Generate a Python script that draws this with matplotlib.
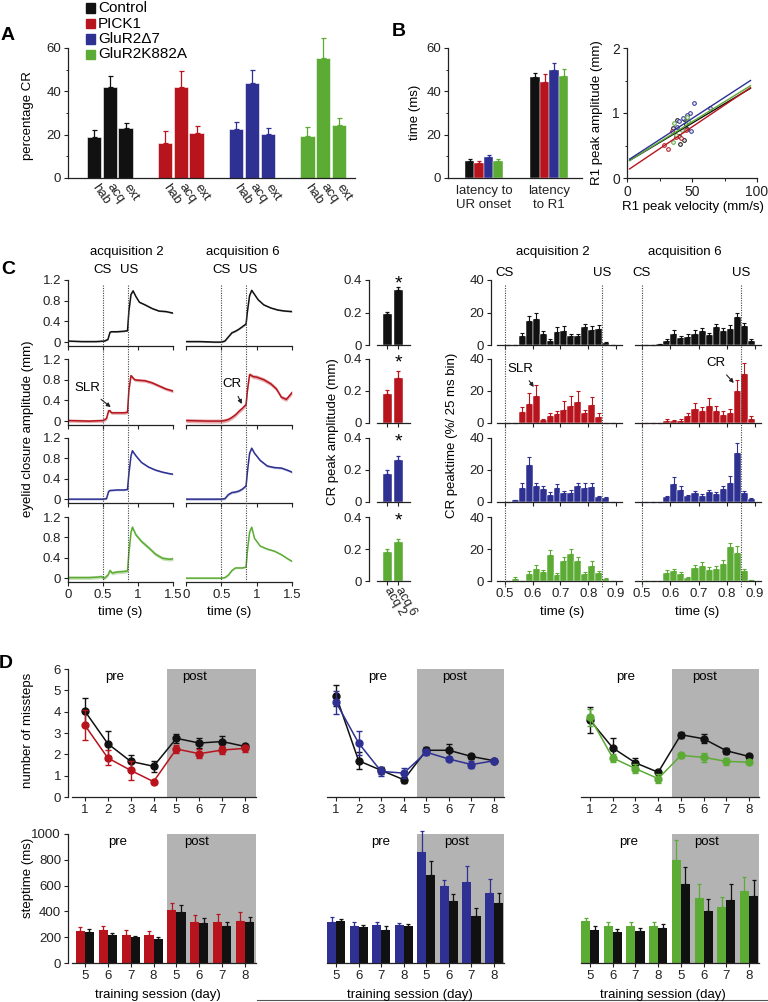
import numpy as np
import matplotlib.pyplot as plt
from matplotlib.lines import Line2D
from matplotlib.transforms import blended_transform_factory

plt.rcParams['font.family'] = ['Liberation Sans', 'DejaVu Sans']
plt.rcParams['font.size'] = 9.5
plt.rcParams['axes.linewidth'] = 0.9

# ---------------- data ----------------
groups = ['Control', 'PICK1', 'GluR2\u03947', 'GluR2K882A']
colors = ['#111111', '#b8141d', '#2e3192', '#5cab34']

# A: percentage CR per phase
phases = ['hab', 'acq', 'ext']
cr_pct = [[19, 42, 23], [16, 42, 21], [22.5, 44, 20.5], [19.5, 55.5, 24.5]]
cr_pct_err = [[3, 5, 2.5], [5.5, 7.5, 3], [3.5, 6, 2.5], [4, 9, 3]]

# B: latencies
latency_names = ['latency to\nUR onset', 'latency\nto R1']
latency = [[8, 46.5], [7, 44.5], [9.5, 50], [8, 47]]
latency_err = [[0.7, 2], [1, 3.5], [1.2, 3], [0.7, 3.5]]

# B: R1 peak velocity vs amplitude
r1_vel = [[38.4, 44, 35.6, 45.2, 40.2, 44, 40.9, 46.5],
          [34.6, 41.4, 28.8, 31.8, 37.6, 45.4],
          [51.5, 63.6, 48.2, 46, 43, 38.6, 49.5, 40.2],
          [36.4, 46.4, 42.2, 35.6, 37.6, 47]]
r1_amp = [[0.89, 0.91, 0.77, 0.83, 0.65, 0.59, 0.53, 0.76],
          [0.72, 0.61, 0.51, 0.45, 0.63, 0.74],
          [1.15, 1.08, 1.0, 0.97, 0.92, 0.79, 0.72, 0.87],
          [0.85, 0.94, 0.74, 0.56, 0.66, 0.87]]
fit_x = [2, 95]
fit_y = [[0.27, 1.38], [0.14, 1.39], [0.29, 1.5], [0.27, 1.42]]

# C: eyelid traces (time s, amplitude mm) for acquisition 2 and 6
trace_t = [
    [[0, 0.2, 0.4, 0.52, 0.57, 0.6, 0.62, 0.7, 0.8, 0.85, 0.87, 0.9, 0.93, 0.97, 1.02, 1.1, 1.2, 1.3, 1.4, 1.5],
     [0, 0.2, 0.4, 0.5, 0.55, 0.6, 0.65, 0.7, 0.75, 0.8, 0.85, 0.87, 0.9, 0.93, 0.97, 1.02, 1.1, 1.2, 1.3, 1.4, 1.5]],
    [[0, 0.3, 0.5, 0.55, 0.58, 0.6, 0.62, 0.7, 0.8, 0.85, 0.87, 0.9, 0.95, 1.0, 1.1, 1.2, 1.3, 1.4, 1.5],
     [0, 0.3, 0.5, 0.55, 0.6, 0.65, 0.7, 0.75, 0.8, 0.85, 0.87, 0.9, 0.95, 1.0, 1.1, 1.2, 1.28, 1.35, 1.42, 1.5]],
    [[0, 0.3, 0.5, 0.55, 0.58, 0.6, 0.7, 0.8, 0.85, 0.87, 0.9, 0.92, 0.97, 1.05, 1.15, 1.25, 1.35, 1.45, 1.5],
     [0, 0.3, 0.5, 0.55, 0.6, 0.65, 0.7, 0.75, 0.8, 0.85, 0.87, 0.9, 0.93, 0.97, 1.05, 1.15, 1.25, 1.35, 1.45, 1.5]],
    [[0, 0.3, 0.43, 0.47, 0.52, 0.57, 0.6, 0.63, 0.7, 0.8, 0.85, 0.87, 0.9, 0.92, 0.97, 1.05, 1.15, 1.25, 1.35, 1.45, 1.5],
     [0, 0.3, 0.5, 0.55, 0.6, 0.65, 0.7, 0.8, 0.85, 0.87, 0.9, 0.93, 0.97, 1.05, 1.15, 1.25, 1.35, 1.45, 1.5]],
]
trace_y = [
    [[0.02, 0.01, 0.01, 0.02, 0.05, 0.19, 0.2, 0.2, 0.21, 0.22, 0.6, 0.92, 0.99, 0.88, 0.77, 0.72, 0.65, 0.6, 0.59, 0.56],
     [0.01, 0.01, 0.0, 0.0, 0.02, 0.1, 0.18, 0.21, 0.25, 0.3, 0.35, 0.6, 0.9, 1.0, 0.92, 0.82, 0.72, 0.66, 0.62, 0.6, 0.59]],
    [[0.01, 0.0, 0.01, 0.05, 0.2, 0.2, 0.16, 0.16, 0.16, 0.17, 0.6, 0.88, 0.8, 0.79, 0.78, 0.74, 0.68, 0.62, 0.58],
     [0.01, 0.0, 0.0, 0.01, 0.03, 0.07, 0.12, 0.19, 0.25, 0.32, 0.6, 0.9, 0.86, 0.85, 0.8, 0.72, 0.62, 0.46, 0.42, 0.55]],
    [[0.0, 0.0, 0.0, 0.01, 0.15, 0.17, 0.18, 0.18, 0.19, 0.5, 0.85, 0.95, 0.85, 0.72, 0.63, 0.57, 0.53, 0.5, 0.49],
     [0.0, 0.0, 0.0, 0.01, 0.09, 0.13, 0.14, 0.16, 0.2, 0.26, 0.55, 0.9, 1.0, 0.9, 0.76, 0.65, 0.62, 0.61, 0.56, 0.53]],
    [[0.01, 0.01, 0.02, 0.03, 0.0, 0.06, 0.15, 0.1, 0.12, 0.13, 0.14, 0.5, 0.9, 1.0, 0.85, 0.72, 0.6, 0.47, 0.39, 0.37, 0.38],
     [0.0, 0.0, 0.0, 0.01, 0.06, 0.15, 0.2, 0.2, 0.22, 0.55, 0.9, 1.0, 0.78, 0.63, 0.57, 0.53, 0.46, 0.37, 0.33]],
]
trace_sem = [[0.012, 0.012], [0.03, 0.04], [0.015, 0.02], [0.035, 0.015]]
cs_time, us_time = 0.5, 0.85

# C: CR peak amplitude
acq_names = ['acq 2', 'acq 6']
cr_peak = [[0.19, 0.34], [0.18, 0.28], [0.175, 0.265], [0.18, 0.245]]
cr_peak_err = [[0.015, 0.02], [0.028, 0.045], [0.022, 0.025], [0.02, 0.02]]

# C: CR peaktime histograms, 25 ms bins from 0.5 s
bin_left = [0.5, 0.525, 0.55, 0.575, 0.6, 0.625, 0.65, 0.675,
            0.7, 0.725, 0.75, 0.775, 0.8, 0.825, 0.85, 0.875]
hist = [
    [[0, 0, 5.5, 15, 16, 7, 2.5, 8, 8.5, 5.5, 5.5, 11, 9.5, 10, 1.2, 0],
     [0, 0, 0.5, 2.5, 7, 4.5, 5, 7, 8.6, 6.4, 11, 8.8, 10, 17, 12, 2.5]],
    [[0, 0, 6.8, 12, 17, 2, 4.5, 5.8, 7.9, 10.8, 13, 6.2, 11.4, 4, 0, 0],
     [0, 0, 0, 1.5, 1.2, 1.5, 4.5, 9, 7.7, 10.4, 7.7, 5.2, 6, 20, 30.7, 2.7]],
    [[0, 1, 9, 23, 10, 8, 4.6, 9, 5.6, 5.8, 9.8, 9, 9.4, 2.9, 2.5, 0],
     [0, 0, 0, 3, 11.5, 7.7, 3.5, 5.6, 3.8, 6.3, 5.2, 8, 12, 30.6, 5.6, 1.7]],
    [[0, 1.5, 0, 4.6, 7.7, 5.9, 16.5, 4, 12.8, 17, 12.8, 4.4, 9.6, 4.8, 1.3, 0],
     [0, 0, 0, 5.2, 6, 4.4, 1.9, 8, 9.6, 7.1, 7.7, 10.7, 21, 17.6, 6, 0.4]],
]
hist_err = [
    [[0, 0, 2, 3, 3.5, 1.5, 1, 3, 3, 1, 1, 2, 2, 2.5, 0.5, 0],
     [0, 0, 0.3, 1.5, 2.5, 1.2, 1.5, 2, 2, 1.2, 2, 1.5, 2.5, 2.5, 1.5, 1]],
    [[0, 0, 3, 7, 7, 0.5, 1.5, 2, 6, 6, 7, 2, 5, 2.5, 0, 0],
     [0, 0, 0, 0.8, 0.8, 0.8, 1.5, 3.5, 2, 5, 3, 2, 3, 7, 6.5, 1.5]],
    [[0, 0.5, 3, 5, 2, 2, 1.5, 2, 1.5, 1.5, 2, 3, 2.5, 1, 0.8, 0],
     [0, 0, 0, 1, 4, 2.5, 1, 1.5, 1, 1.5, 1, 2, 4, 6.5, 1.5, 0.5]],
    [[0, 0.8, 0, 1.5, 2.5, 1.2, 3, 1, 2, 3, 2.5, 1, 3, 1.5, 0.5, 0],
     [0, 0, 0, 1.5, 1.8, 1.5, 0.8, 2, 2, 1.5, 1.5, 2.5, 3, 4.5, 1.5, 0]],
]

# D: missteps per training day (control vs mutant)
days = [1, 2, 3, 4, 5, 6, 7, 8]
miss_ctrl = [[4.02, 2.5, 1.67, 1.44, 2.75, 2.53, 2.6, 2.37],
             [4.75, 1.7, 1.25, 0.81, 2.19, 2.19, 1.9, 1.7],
             [3.6, 2.3, 1.6, 1.16, 2.92, 2.73, 2.17, 1.9]]
miss_ctrl_err = [[0.62, 0.6, 0.3, 0.27, 0.2, 0.22, 0.25, 0.12],
                 [0.5, 0.4, 0.15, 0.15, 0.15, 0.3, 0.12, 0.08],
                 [0.6, 0.45, 0.25, 0.1, 0.15, 0.2, 0.15, 0.1]]
miss_mut = [[3.36, 1.83, 1.25, 0.72, 2.25, 2.03, 2.2, 2.28],
            [4.44, 2.53, 1.2, 1.12, 2.1, 1.78, 1.52, 1.7],
            [3.73, 1.83, 1.33, 0.86, 1.95, 1.86, 1.67, 1.63]]
miss_mut_err = [[0.7, 0.35, 0.45, 0.1, 0.2, 0.2, 0.2, 0.15],
                [0.55, 0.55, 0.2, 0.25, 0.15, 0.1, 0.15, 0.1],
                [0.4, 0.2, 0.2, 0.2, 0.1, 0.2, 0.15, 0.1]]

# D: steptime (ms)
step_days = ['5', '6', '7', '8', '5', '6', '7', '8']
step_mut = [[245, 253, 215, 215, 413, 320, 315, 328],
            [315, 289, 297, 292, 858, 594, 628, 543],
            [323, 289, 289, 289, 801, 504, 432, 561]]
step_mut_err = [[34, 35, 40, 35, 50, 55, 65, 70],
                [40, 30, 20, 20, 165, 52, 127, 105],
                [28, 25, 25, 25, 155, 108, 80, 106]]
step_ctrl = [[240, 215, 199, 189, 398, 310, 289, 315],
             [328, 282, 253, 284, 680, 478, 367, 465],
             [258, 238, 248, 274, 612, 405, 486, 517]]
step_ctrl_err = [[25, 20, 12, 10, 50, 40, 25, 40],
                 [15, 15, 36, 15, 110, 57, 57, 80],
                 [26, 26, 26, 28, 130, 93, 129, 124]]

# ---------------- helpers ----------------
W, H = 768, 1002
fig = plt.figure(figsize=(W / 100, H / 100), dpi=100)
fig.patch.set_facecolor('white')
DARK = '#222222'
SHADE = '#b3b3b3'
FS = 9.5


def add_ax(l, t, r, b):
    return fig.add_axes([l / W, 1 - b / H, (r - l) / W, (b - t) / H])


def ftext(x, y, s, **kw):
    kw.setdefault('ha', 'center')
    kw.setdefault('va', 'center')
    return fig.text(x / W, 1 - y / H, s, **kw)


def style(ax, left=True):
    ax.patch.set_alpha(0)
    for s in ['top', 'right']:
        ax.spines[s].set_visible(False)
    for s in ['left', 'bottom']:
        ax.spines[s].set_color(DARK)
    if not left:
        ax.spines['left'].set_visible(False)
        ax.tick_params(axis='y', left=False, labelleft=False)
    ax.tick_params(direction='out', length=3, width=0.8, colors=DARK,
                   labelcolor='#222222', labelsize=FS, pad=2)
    ax.tick_params(which='minor', direction='out', length=1.8, width=0.7, colors=DARK)


def up_err(ax, x, y, e, color, cap=1.8, lw=0.9):
    ax.errorbar(x, y, yerr=[np.zeros(len(e)), e], fmt='none', ecolor=color,
                elinewidth=lw, capsize=cap, capthick=lw, clip_on=False)


# ---------------- panel A ----------------
axA = add_ax(68, 48, 355, 178)
style(axA)
off = np.array([-0.22, 0, 0.22])
tick_x, tick_l = [], []
for g in range(4):
    x = g + off
    axA.bar(x, cr_pct[g], width=0.2, color=colors[g], edgecolor='white', linewidth=0.4)
    up_err(axA, x, cr_pct[g], cr_pct_err[g], colors[g])
    tick_x += list(x)
    tick_l += phases
axA.set_xlim(-0.59, 3.45)
axA.set_ylim(0, 60)
axA.set_yticks([0, 20, 40, 60])
axA.set_yticks([10, 30, 50], minor=True)
axA.set_xticks(tick_x)
axA.set_xticklabels(tick_l, rotation=-55, ha='left', va='center', rotation_mode='anchor')
axA.tick_params(axis='x', length=0, pad=5)
ftext(28, 116, 'percentage CR', rotation=90)
ftext(8, 35, 'A', fontsize=14, fontweight='bold')

# legend
for g in range(4):
    y = 8 + g * 15.5
    fig.patches.append(plt.Rectangle((86 / W, 1 - (y + 4.5) / H), 9 / W, 9 / H,
                                     transform=fig.transFigure, color=colors[g]))
    ftext(98, y, groups[g], ha='left', fontsize=11)

# ---------------- panel B bars ----------------
axB = add_ax(448, 48, 582, 178)
style(axB)
boff = np.array([-1.5, -0.5, 0.5, 1.5]) * 0.146
for g in range(4):
    x = np.arange(2) + boff[g]
    axB.bar(x, latency[g], width=0.146, color=colors[g], edgecolor='white', linewidth=0.3)
    up_err(axB, x, latency[g], latency_err[g], colors[g], cap=1.5)
axB.set_xlim(-0.55, 1.5)
axB.set_ylim(0, 60)
axB.set_yticks([0, 20, 40, 60])
axB.set_yticks([10, 30, 50], minor=True)
axB.set_xticks([0, 1])
axB.set_xticklabels(latency_names)
axB.tick_params(axis='x', length=0, pad=5)
ftext(415, 112, 'time (ms)', rotation=90)
ftext(399, 31, 'B', fontsize=14, fontweight='bold')

# ---------------- panel B scatter ----------------
axS = add_ax(627, 48, 757, 178)
style(axS)
for g in range(4):
    axS.scatter(r1_vel[g], r1_amp[g], s=7, facecolors='#e8e8f0', edgecolors=colors[g],
                linewidths=0.7, zorder=3)
for g in [0, 3, 1, 2]:
    axS.plot(fit_x, fit_y[g], color=colors[g], lw=1.0, zorder=4)
axS.set_xlim(0, 100)
axS.set_ylim(0, 2)
axS.set_xticks([0, 50, 100])
axS.set_xticks([25, 75], minor=True)
axS.set_yticks([0, 1, 2])
axS.set_yticks([0.5, 1.5], minor=True)
axS.tick_params(labelsize=10)
ftext(597, 113, 'R1 peak amplitude (mm)', rotation=90)
ftext(693, 207, 'R1 peak velocity (mm/s)')

# ---------------- panel C traces ----------------
row_top = [280, 359, 438, 517]
row_zero = [342, 421, 499, 578]
col_lr = [(68, 173), (186, 292)]
trace_axes = [[None, None] for _ in range(4)]
for g in range(4):
    for a in range(2):
        l, r = col_lr[a]
        ax = add_ax(l, row_top[g], r, row_zero[g] + 3.7)
        style(ax, left=(a == 0))
        t = np.array(trace_t[g][a])
        y = np.array(trace_y[g][a])
        s = trace_sem[g][a]
        ax.fill_between(t, y - s, y + s, color=colors[g], alpha=0.35, lw=0)
        ax.plot(t, y, color=colors[g], lw=1.1)
        ax.set_xlim(0, 1.5)
        ax.set_ylim(-0.07, 1.2)
        ax.set_xticks([0, 0.5, 1, 1.5])
        ax.set_xticklabels(['0', '0.5', '1', '1.5'])
        ax.set_yticks([0, 0.4, 0.8, 1.2])
        ax.set_yticklabels(['0', '0.4', '0.8', '1.2'])
        if g < 3:
            ax.tick_params(axis='x', labelbottom=False)
        trace_axes[g][a] = ax

for a in range(2):
    tr = blended_transform_factory(trace_axes[0][a].transData, fig.transFigure)
    for xv in [cs_time, us_time]:
        fig.add_artist(Line2D([xv, xv], [1 - 285 / H, 1 - 581 / H], transform=tr,
                              color='#444444', lw=0.8, ls=(0, (1, 1.2))))
    ax0 = trace_axes[0][a]
    ax0.text(cs_time, 1.28, 'CS', ha='center', va='bottom', fontsize=FS)
    ax0.text(us_time + 0.03, 1.28, 'US', ha='center', va='bottom', fontsize=FS)

ftext(127, 252, 'acquisition 2')
ftext(243, 252, 'acquisition 6')
ftext(120, 612, 'time (s)')
ftext(229, 612, 'time (s)')
ftext(28, 429, 'eyelid closure amplitude (mm)', rotation=90)
ftext(8, 269, 'C', fontsize=14, fontweight='bold')

arrow = dict(arrowstyle='-|>', lw=0.8, color=DARK, mutation_scale=6, shrinkA=3, shrinkB=0)
trace_axes[1][0].annotate('SLR', xy=(0.61, 0.27), xytext=(0.27, 0.64), ha='center',
                          va='center', fontsize=FS, arrowprops=arrow)
trace_axes[1][1].annotate('CR', xy=(0.79, 0.33), xytext=(0.65, 0.72), ha='center',
                          va='center', fontsize=FS, arrowprops=arrow)

# ---------------- panel C CR peak bars ----------------
bar_zero = [345, 423, 502, 581]
for g in range(4):
    ax = add_ax(369, row_top[g], 410, bar_zero[g])
    style(ax)
    ax.bar([0, 1], cr_peak[g], width=0.82, color=colors[g], edgecolor='white', linewidth=0.3)
    up_err(ax, [0, 1], cr_peak[g], cr_peak_err[g], colors[g], cap=1.5)
    ax.set_xlim(-1.68, 2.05)
    ax.set_ylim(0, 0.4)
    ax.spines['bottom'].set_bounds(-0.95, 2.05)
    ax.set_yticks([0, 0.2, 0.4])
    ax.set_yticklabels(['0', '0.2', '0.4'])
    ax.set_xticks([0, 1])
    if g < 3:
        ax.tick_params(axis='x', labelbottom=False)
    else:
        ax.set_xticklabels(acq_names, rotation=-60, ha='left', va='center',
                           rotation_mode='anchor', fontsize=9)
    ax.text(1, 0.375, '*', ha='center', va='center', fontsize=14)
ftext(333, 432, 'CR peak amplitude (mm)', rotation=90)

# ---------------- panel C peaktime histograms ----------------
hist_cols = [(491, 623, 0.45), (635, 762, 0.475)]
hist_axes = [[None, None] for _ in range(4)]
for g in range(4):
    for a in range(2):
        l, r, x0 = hist_cols[a]
        ax = add_ax(l, row_top[g], r, bar_zero[g])
        style(ax, left=(a == 0))
        ax.bar(bin_left, hist[g][a], width=0.025, align='edge', color=colors[g],
               edgecolor='white', linewidth=0.35)
        up_err(ax, np.array(bin_left) + 0.0125, hist[g][a], hist_err[g][a], colors[g], cap=1.2, lw=0.8)
        ax.set_xlim(x0, 0.925)
        ax.set_ylim(0, 40)
        ax.spines['bottom'].set_bounds(x0 + 0.02 if a == 0 else x0, 0.92)
        ax.set_yticks([0, 20, 40])
        ax.set_xticks([0.5, 0.6, 0.7, 0.8, 0.9])
        ax.set_xticklabels(['0.5', '0.6', '0.7', '0.8', '0.9'])
        if g < 3:
            ax.tick_params(axis='x', labelbottom=False)
        hist_axes[g][a] = ax

for a in range(2):
    tr = blended_transform_factory(hist_axes[0][a].transData, fig.transFigure)
    for xv in [cs_time, us_time]:
        fig.add_artist(Line2D([xv, xv], [1 - 285 / H, 1 - 588 / H], transform=tr,
                              color='#444444', lw=0.8, ls=(0, (1, 1.2))))
    ax0 = hist_axes[0][a]
    ax0.text(cs_time, 40.5, 'CS', ha='center', va='bottom', fontsize=FS)
    ax0.text(us_time, 40.5, 'US', ha='center', va='bottom', fontsize=FS)

ftext(553, 252, 'acquisition 2')
ftext(685, 252, 'acquisition 6')
ftext(562, 612, 'time (s)')
ftext(697, 612, 'time (s)')
ftext(452, 435, 'CR peaktime (%/ 25 ms bin)', rotation=90)
hist_axes[1][0].annotate('SLR', xy=(0.604, 22.5), xytext=(0.555, 34), ha='center',
                         va='center', fontsize=FS, arrowprops=arrow)
hist_axes[1][1].annotate('CR', xy=(0.825, 25), xytext=(0.762, 37.5), ha='center',
                         va='center', fontsize=FS, arrowprops=arrow)

# ---------------- panel D missteps ----------------
d_cols = [(68, 256, 0.26, 8.48, 4.6), (327, 504, 0.6, 8.44, 4.58), (581, 759, 0.6, 8.44, 4.6)]
pre_x = [(115, 195), (378, 455), (626, 705)]
for c in range(3):
    l, r, x0, x1, sh = d_cols[c]
    ax = add_ax(l, 669, r, 797)
    style(ax, left=(c == 0))
    ax.axvspan(sh, x1, color=SHADE, lw=0, zorder=0)
    ax.errorbar(days, miss_ctrl[c], yerr=miss_ctrl_err[c], color=colors[0], lw=1.1,
                marker='o', ms=5, capsize=2.5, elinewidth=1, capthick=1, zorder=3)
    ax.errorbar(days, miss_mut[c], yerr=miss_mut_err[c], color=colors[c + 1], lw=1.1,
                marker='o', ms=5, capsize=2.5, elinewidth=1, capthick=1, zorder=4)
    ax.set_xlim(x0, x1)
    ax.set_ylim(0, 6)
    ax.spines['bottom'].set_bounds(0.43 if c == 0 else x0, x1)
    ax.set_xticks(days)
    ax.set_yticks([0, 1, 2, 3, 4, 5, 6])
    ftext(pre_x[c][0], 677, 'pre')
    ftext(pre_x[c][1], 677, 'post')
ftext(28, 730, 'number of missteps', rotation=90)
ftext(6, 663, 'D', fontsize=14, fontweight='bold')

# ---------------- panel D steptime ----------------
for c in range(3):
    l, r, x0, x1, sh = d_cols[c]
    ax = add_ax(l, 834, r, 963)
    style(ax, left=(c == 0))
    ax.axvspan(sh, x1, color=SHADE, lw=0, zorder=0)
    xp = np.array(days)
    ax.bar(xp - 0.2, step_mut[c], width=0.4, color=colors[c + 1], zorder=2)
    up_err(ax, xp - 0.2, step_mut[c], step_mut_err[c], colors[c + 1], cap=1.5)
    ax.bar(xp + 0.2, step_ctrl[c], width=0.4, color=colors[0], zorder=2)
    up_err(ax, xp + 0.2, step_ctrl[c], step_ctrl_err[c], colors[0], cap=1.5)
    ax.set_xlim(x0, x1)
    ax.set_ylim(0, 1000)
    ax.spines['bottom'].set_bounds(0.43 if c == 0 else x0, x1)
    ax.set_xticks(days)
    ax.set_xticklabels(step_days)
    ax.set_yticks([0, 200, 400, 600, 800, 1000])
    ftext(pre_x[c][0] + 3, 842, 'pre')
    ftext(pre_x[c][1] + 2, 842, 'post')
ftext(28, 878, 'steptime (ms)', rotation=90)
ftext(158, 995, 'training session (day)')
ftext(410, 995, 'training session (day)')
ftext(663, 995, 'training session (day)')
fig.add_artist(Line2D([257 / W, 1], [1 - 1000 / H, 1 - 1000 / H], transform=fig.transFigure,
                      color='#555555', lw=0.8))

fig.savefig('out.png', dpi=100)
